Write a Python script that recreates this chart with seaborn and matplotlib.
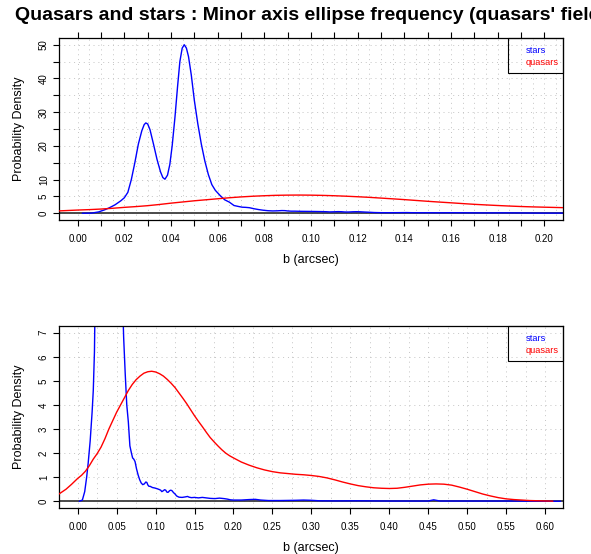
import numpy as np
import matplotlib
matplotlib.use("Agg")
import matplotlib.pyplot as plt
import seaborn as sns
from matplotlib.patches import Rectangle

# ---------------- data ----------------
stars_x = [0.002, 0.006, 0.009, 0.0115, 0.0135, 0.016, 0.0185, 0.020, 0.0215, 0.023,
           0.0245, 0.026, 0.0275, 0.0285, 0.0292, 0.030, 0.031, 0.0325, 0.034, 0.0355,
           0.0365, 0.0374, 0.0385, 0.0395, 0.0405, 0.0417, 0.0428, 0.0438, 0.0448, 0.0457,
           0.0466, 0.0475, 0.0487, 0.050, 0.0515, 0.053, 0.0545, 0.056, 0.0575, 0.059,
           0.061, 0.063, 0.065, 0.067, 0.069, 0.0705, 0.072, 0.0736, 0.0755, 0.0775,
           0.0795, 0.0815, 0.0835, 0.0855, 0.0875, 0.0888, 0.090, 0.0915, 0.093, 0.096,
           0.099, 0.102, 0.1045, 0.1065, 0.108, 0.110, 0.1115, 0.113, 0.1145, 0.116,
           0.118, 0.1195, 0.121, 0.123, 0.125, 0.127, 0.130, 0.134, 0.138, 0.141,
           0.143, 0.146, 0.150, 0.155, 0.160, 0.165, 0.170, 0.176, 0.182, 0.188,
           0.192, 0.196, 0.200, 0.21, 0.22, 0.228, 0.235, 0.245, 0.26, 0.28,
           0.29, 0.30, 0.31, 0.33, 0.36, 0.40, 0.45, 0.457, 0.465, 0.50,
           0.55, 0.60, 0.62]
stars_y = [0.0, 0.05, 0.4, 1.0, 1.6, 2.5, 3.7, 4.6, 6.2, 10.0,
           15.0, 20.5, 24.5, 26.3, 26.8, 26.5, 24.8, 20.5, 16.0, 12.3,
           10.6, 10.1, 11.3, 14.5, 20.0, 28.5, 37.5, 45.0, 49.0, 50.0,
           49.0, 46.5, 41.0, 33.5, 26.5, 20.5, 15.5, 11.5, 8.5, 6.8,
           5.3, 4.0, 3.3, 2.3, 2.0, 1.8, 1.75, 1.65, 1.35, 1.1,
           0.9, 0.76, 0.69, 0.72, 0.8, 0.78, 0.68, 0.62, 0.62, 0.57,
           0.55, 0.52, 0.49, 0.46, 0.40, 0.44, 0.48, 0.46, 0.38, 0.37,
           0.44, 0.46, 0.44, 0.36, 0.30, 0.22, 0.17, 0.16, 0.18, 0.20,
           0.17, 0.15, 0.16, 0.14, 0.16, 0.14, 0.12, 0.11, 0.13, 0.11,
           0.09, 0.06, 0.05, 0.05, 0.07, 0.08, 0.05, 0.03, 0.03, 0.04,
           0.05, 0.04, 0.02, 0.015, 0.02, 0.01, 0.01, 0.06, 0.01, 0.01,
           0.01, 0.0, 0.0]

quasars_x = [-0.025, -0.015, -0.008, 0.0, 0.005, 0.01, 0.015, 0.02, 0.025, 0.03,
             0.035, 0.04, 0.045, 0.05, 0.055, 0.06, 0.065, 0.07, 0.075, 0.08,
             0.085, 0.09, 0.095, 0.10, 0.105, 0.11, 0.115, 0.12, 0.125, 0.13,
             0.135, 0.14, 0.145, 0.15, 0.155, 0.16, 0.165, 0.17, 0.175, 0.18,
             0.185, 0.19, 0.195, 0.20, 0.21, 0.22, 0.23, 0.24, 0.25, 0.26,
             0.27, 0.28, 0.29, 0.30, 0.31, 0.32, 0.33, 0.34, 0.35, 0.36,
             0.37, 0.38, 0.39, 0.40, 0.41, 0.42, 0.43, 0.44, 0.45, 0.46,
             0.47, 0.48, 0.49, 0.50, 0.51, 0.52, 0.53, 0.54, 0.55, 0.56,
             0.58, 0.60, 0.61]
quasars_y = [0.28, 0.5, 0.7, 0.95, 1.08, 1.25, 1.48, 1.75, 1.98, 2.25,
             2.6, 3.0, 3.35, 3.7, 4.0, 4.3, 4.6, 4.85, 5.05, 5.2,
             5.32, 5.38, 5.4, 5.37, 5.3, 5.2, 5.06, 4.9, 4.72, 4.5,
             4.28, 4.05, 3.8, 3.55, 3.32, 3.1, 2.87, 2.65, 2.47, 2.3,
             2.14, 2.0, 1.89, 1.8, 1.63, 1.5, 1.39, 1.3, 1.23, 1.18,
             1.15, 1.12, 1.1, 1.07, 1.03, 0.97, 0.89, 0.8, 0.72, 0.65,
             0.6, 0.56, 0.54, 0.53, 0.54, 0.58, 0.63, 0.68, 0.71, 0.72,
             0.71, 0.67, 0.59, 0.5, 0.4, 0.3, 0.22, 0.15, 0.1, 0.07,
             0.03, 0.012, 0.005]

title = "Quasars and stars : Minor axis ellipse frequency (quasars' field)"
xlabel = "b (arcsec)"
ylabel = "Probability Density"
legend_labels = ["stars", "quasars"]
series_colors = ["#0000FF", "#FF0000"]

top_xticks = [round(0.01 * i, 2) for i in range(21)]
top_xticklabels = ["%.2f" % v if i % 2 == 0 else "" for i, v in enumerate(top_xticks)]
top_yticks = [0, 5, 10, 15, 20, 25, 30, 35, 40, 45, 50]
top_yticklabels = ["0", "5", "10", "", "20", "", "30", "", "40", "", "50"]
bot_xticks = [round(0.05 * i, 2) for i in range(13)]
bot_xticklabels = ["%.2f" % v for v in bot_xticks]
bot_yticks = [0, 1, 2, 3, 4, 5, 6, 7]
bot_yticklabels = [str(v) for v in bot_yticks]

# ---------------- style ----------------
sns.set_theme(style="white")
plt.rcParams['font.family'] = ['Liberation Sans', 'DejaVu Sans']

W, H = 591, 554
fig = plt.figure(figsize=(W / 100, H / 100), dpi=100)


def px_axes(l, t, r, b):
    return fig.add_axes([l / W, 1 - b / H, (r - l) / W, (b - t) / H])


def panel(ax, xlim, ylim, xticks, xticklabels, yticks, yticklabels, gridx, gridy,
          top_ticks, xlab_y):
    ax.set_xlim(*xlim)
    ax.set_ylim(*ylim)
    for gx in gridx:
        ax.axvline(gx, color="#c4c4c4", lw=0.7, ls=(0, (1, 4)), zorder=0)
    for gy in gridy:
        ax.axhline(gy, color="#c4c4c4", lw=0.7, ls=(0, (1, 4)), zorder=0)
    ax.axhline(0, color="#3c3c3c", lw=1.3, zorder=1)
    sns.lineplot(x=stars_x, y=stars_y, ax=ax, color=series_colors[0], lw=1.0,
                 estimator=None, sort=False, zorder=2)
    sns.lineplot(x=quasars_x, y=quasars_y, ax=ax, color=series_colors[1], lw=1.0,
                 estimator=None, sort=False, zorder=3)
    ax.set_xticks(xticks)
    ax.set_xticklabels(xticklabels)
    ax.set_yticks(yticks)
    ax.set_yticklabels(yticklabels, rotation=90, va="center")
    ax.tick_params(axis="both", direction="out", length=4.3, width=0.8,
                   color="black", labelsize=7, labelcolor="black", pad=5.5,
                   bottom=True, left=True, top=top_ticks, right=False, labeltop=False)
    ax.tick_params(axis="y", pad=3)
    for s in ax.spines.values():
        s.set_visible(True)
        s.set_color("black")
        s.set_linewidth(0.9)
    ax.set_xlabel(xlabel, fontsize=9, color="black", va="center")
    ax.xaxis.set_label_coords(0.5, xlab_y)
    ax.set_ylabel(ylabel, fontsize=9, color="black", va="center")
    ax.yaxis.set_label_coords((19 - 59) / 504, 0.5)
    # legend box (R style: text only, coloured)
    bw, bh = 55.3 / 504, 35 / 182
    ax.add_patch(Rectangle((1 - bw, 1 - bh), bw, bh, transform=ax.transAxes,
                           fill=False, ec="black", lw=0.8, clip_on=False, zorder=5))
    tx = (525.7 - 59) / 504
    for lab, col, yy in zip(legend_labels, series_colors, [1 - 12.7 / 182, 1 - 24.3 / 182]):
        ax.text(tx, yy, lab, color=col, fontsize=6.7, ha="left", va="center",
                transform=ax.transAxes, zorder=6)


ax1 = px_axes(59, 38, 563, 220)
panel(ax1, (-0.008, 0.208), (-2.0, 52.0), top_xticks, top_xticklabels,
      top_yticks, top_yticklabels,
      [round(0.005 * i, 3) for i in range(0, 42)], top_yticks, True,
      (220 - 260) / 182)

ax2 = px_axes(59, 326, 563, 508)
panel(ax2, (-0.024, 0.623), (-0.28, 7.28), bot_xticks, bot_xticklabels,
      bot_yticks, bot_yticklabels,
      [round(0.025 * i, 3) for i in range(0, 25)], bot_yticks, False,
      (508 - 548) / 182)

# title is centred over the plot region and runs past the right edge, as in the reference
fig.text(311 / W, 1 - 15 / H, title, ha="center", va="center",
         fontsize=14, fontweight="bold", color="black")

fig.savefig("out.png", dpi=100)
